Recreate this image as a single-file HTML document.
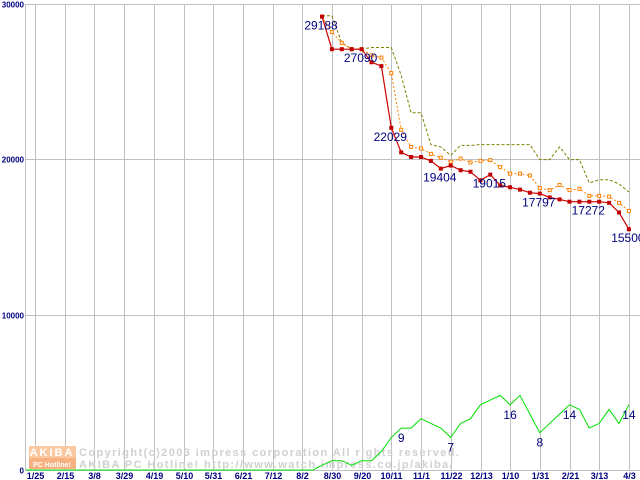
<!DOCTYPE html>
<html><head><meta charset="utf-8">
<style>
html,body{margin:0;padding:0;background:#fff;}
svg{display:block;font-family:"Liberation Sans",sans-serif;}
</style></head>
<body>
<svg id="chart" width="640" height="480" viewBox="0 0 640 480" xmlns="http://www.w3.org/2000/svg">
<g id="grid"></g>
<g id="watermark">
  <rect x="29" y="446" width="47" height="12" fill="#fcc8a0"/>
  <rect x="29" y="458" width="47" height="11" fill="#f8b080"/>
  <text x="52" y="456" font-size="11" font-weight="bold" fill="#fff" text-anchor="middle" letter-spacing="2">AKIBA</text>
  <text x="52" y="467" font-size="7" font-weight="bold" fill="#fff" text-anchor="middle">PC Hotline!</text>
  <text x="79" y="456" font-size="11" fill="#d0d0d0" font-weight="bold" letter-spacing="1.4">Copyright(c)2003 impress corporation All rights reserved.</text>
  <text x="79" y="468" font-size="11" fill="#d0d0d0" font-weight="bold" letter-spacing="1.4">AKIBA PC Hotline!  http://www.watch.impress.co.jp/akiba/</text>
</g>
<g id="series"></g>
<g id="labels"></g>
</svg>
<script>
const xLabels = ["1/25","2/15","3/8","3/29","4/19","5/10","5/31","6/21","7/12","8/2","8/30","9/20","10/11","11/1","11/22","12/13","1/10","1/31","2/21","3/13","4/3"];
const yTicks = [0,10000,20000,30000];
const redVals = [29188,27090,27090,27090,27090,26250,26000,22029,20450,20150,20150,19900,19404,19600,19300,19200,18650,19015,18320,18200,18050,17850,17797,17550,17420,17272,17272,17272,17272,17200,16580,15500];
const orangeVals = [29188,28200,27500,27090,27090,26700,26550,25550,21900,20800,20700,20350,20100,19850,20050,19800,19900,19950,19500,19080,19080,18960,18150,18020,18350,18020,18100,17650,17650,17600,17200,16680];
const oliveVals = [29250,29250,27500,27090,27090,27200,27200,27200,25400,23000,23000,20950,20800,20250,20900,20900,20950,20950,20950,20950,20950,20950,19980,19980,20800,19980,19980,18480,18680,18680,18420,17900];
const greenVals = [1,2,2,1,2,2,4,7,9,9,11,10,9,7,10,11,14,15,16,14,16,12,8,10,12,14,13,9,10,13,10,14];
const redLabels = [[0,"29188"],[4,"27090"],[7,"22029"],[12,"19404"],[17,"19015"],[22,"17797"],[27,"17272"],[31,"15500"]];
const greenLabels = [[8,"9"],[13,"7"],[19,"16"],[22,"8"],[25,"14"],[31,"14"]];

const NS="http://www.w3.org/2000/svg";
const X0=35, XSTEP=29.7, Y0=470, YTOP=4, YMAX=30000;
const PSTEP=XSTEP/3, PX0=322;
function yScale(v){return Y0-(v/YMAX)*(Y0-YTOP);}
function gScale(c){return yScale(c*300);}
function xIdx(i){return PX0+i*PSTEP;}
function mk(tag,attrs,parent){const e=document.createElementNS(NS,tag);for(const k in attrs)e.setAttribute(k,attrs[k]);parent.appendChild(e);return e;}
const grid=document.getElementById('grid'), series=document.getElementById('series'), labels=document.getElementById('labels');

xLabels.forEach((l,i)=>{
  const x=Math.round(X0+i*XSTEP)+0.5;
  const ln=mk('line',{x1:x,y1:YTOP,x2:x,y2:Y0,stroke:'#c0c0c0','stroke-width':1},grid);
  
  
  const t=mk('text',{x:x,y:479,'font-size':9,'font-weight':'bold',fill:'#000080','text-anchor':'middle'},grid);
  t.textContent=l;
  
  
});
yTicks.forEach(v=>{
  const y=Math.round(yScale(v))+0.5;
  const ln=mk('line',{x1:25,y1:y,x2:640,y2:y,stroke:'#c0c0c0','stroke-width':1},grid);
  
  
  const t=mk('text',{x:24,y:y+3,'font-size':8,'font-weight':'bold',fill:'#000080','text-anchor':'end'},grid);
  t.textContent=String(v);
  
  
});
const ax=mk('line',{x1:25.5,y1:YTOP,x2:25.5,y2:Y0,stroke:'#c0c0c0'},grid);



let gpts=[];
for(let x=X0-9;x<PX0-PSTEP*0.5;x+=PSTEP){gpts.push(x.toFixed(1)+','+Y0);}
greenVals.forEach((v,i)=>gpts.push(xIdx(i).toFixed(1)+','+gScale(v).toFixed(1)));
const gl=mk('polyline',{points:gpts.join(' '),fill:'none',stroke:'#00e000','stroke-width':1},series);



const ol=mk('polyline',{points:oliveVals.map((v,i)=>xIdx(i).toFixed(1)+','+yScale(v).toFixed(1)).join(' '),fill:'none',stroke:'#808000','stroke-width':1,'stroke-dasharray':'3,2'},series);



const orl=mk('polyline',{points:orangeVals.map((v,i)=>xIdx(i).toFixed(1)+','+yScale(v).toFixed(1)).join(' '),fill:'none',stroke:'#ff8000','stroke-width':1,'stroke-dasharray':'2,2'},series);


orangeVals.forEach((v,i)=>{
  const r=mk('rect',{x:xIdx(i)-1.5,y:yScale(v)-1.5,width:3,height:3,fill:'#fff',stroke:'#ff8000','stroke-width':1},series);
  
  
});

const rl=mk('polyline',{points:redVals.map((v,i)=>xIdx(i).toFixed(1)+','+yScale(v).toFixed(1)).join(' '),fill:'none',stroke:'#d00000','stroke-width':1.2},series);


redVals.forEach((v,i)=>{
  const r=mk('rect',{x:xIdx(i)-2,y:yScale(v)-2,width:4,height:4,fill:'#c00000'},series);
  
  
});

redLabels.forEach(([i,s])=>{
  const t=mk('text',{x:xIdx(i)-1,y:yScale(redVals[i])+13,'font-size':12,fill:'#000080','text-anchor':'middle'},labels);
  t.textContent=s;
  
  
});
greenLabels.forEach(([i,s])=>{
  const t=mk('text',{x:xIdx(i),y:gScale(greenVals[i])+14,'font-size':12,fill:'#000080','text-anchor':'middle'},labels);
  t.textContent=s;
  
  
});
</script>
</body></html>
